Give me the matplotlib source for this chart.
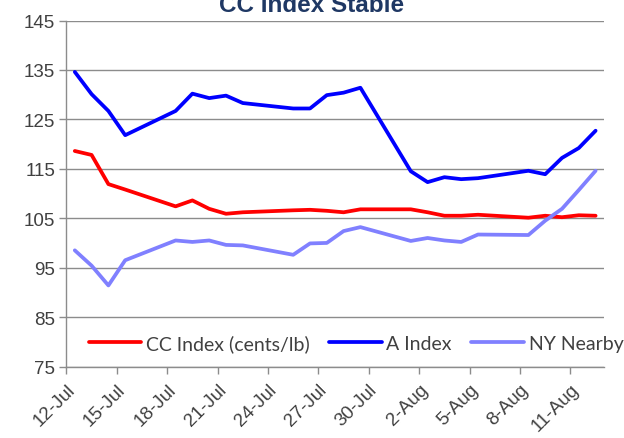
import matplotlib
matplotlib.use("Agg")
import matplotlib.pyplot as plt
import matplotlib.dates as mdates
import datetime as dt

# ---- data ----
dates = ["2011-07-12", "2011-07-13", "2011-07-14", "2011-07-15",
         "2011-07-18", "2011-07-19", "2011-07-20", "2011-07-21", "2011-07-22",
         "2011-07-25", "2011-07-26", "2011-07-27", "2011-07-28", "2011-07-29",
         "2011-08-01", "2011-08-02", "2011-08-03", "2011-08-04", "2011-08-05",
         "2011-08-08", "2011-08-09", "2011-08-10", "2011-08-11", "2011-08-12"]
cc_index = [118.6, 117.8, 111.9, 110.8,
            107.4, 108.6, 106.9, 105.9, 106.2,
            106.6, 106.7, 106.5, 106.2, 106.8,
            106.8, 106.2, 105.5, 105.5, 105.7,
            105.1, 105.5, 105.2, 105.6, 105.5]
a_index = [134.6, 130.1, 126.7, 121.8,
           126.7, 130.2, 129.3, 129.8, 128.3,
           127.2, 127.2, 129.9, 130.4, 131.4,
           114.5, 112.3, 113.3, 112.9, 113.1,
           114.6, 113.9, 117.2, 119.2, 122.7]
ny_nearby = [98.5, 95.4, 91.4, 96.5,
             100.5, 100.2, 100.5, 99.6, 99.5,
             97.6, 99.9, 100.0, 102.4, 103.2,
             100.4, 101.0, 100.5, 100.2, 101.7,
             101.6, 104.5, 106.9, 110.7, 114.6]
series_names = ["CC Index (cents/lb)", "A Index", "NY Nearby"]
series_colors = ["#FF0000", "#0000FF", "#8080FF"]
title = "CC Index Stable"
y_ticks = [75, 85, 95, 105, 115, 125, 135, 145]

# ---- figure ----
fig = plt.figure(figsize=(6.24, 4.39), dpi=100)
ax = fig.add_axes([66.4 / 624, 1 - 367.5 / 439, (604 - 66.4) / 624, 346 / 439])

dnum = [mdates.date2num(dt.datetime.strptime(d, "%Y-%m-%d")) for d in dates]
x = [d + 0.5 for d in dnum]  # points at day centres (Excel "between tick marks")
start = dnum[0]
n_days = 32

for vals, name, col in zip([cc_index, a_index, ny_nearby], series_names, series_colors):
    ax.plot(x, vals, color=col, lw=2.7, label=name, solid_joinstyle="round",
            solid_capstyle="round")

ax.set_xlim(start, start + n_days)
ax.set_ylim(75, 145)
ax.set_yticks(y_ticks)
ticks = [start + 3 * i for i in range(11)]
ax.set_xticks(ticks)
ax.xaxis.set_major_formatter(mdates.DateFormatter("%-d-%b"))

grid_col = "#8C8C8C"
ax.yaxis.grid(True, color=grid_col, lw=1.0)
ax.set_axisbelow(True)
for s in ["top", "right"]:
    ax.spines[s].set_visible(False)
for s in ["left", "bottom"]:
    ax.spines[s].set_color(grid_col)
    ax.spines[s].set_linewidth(1.0)

ax.tick_params(axis="both", direction="out", length=5, width=1, color=grid_col,
               labelcolor="#404040", labelsize=13.5)
ax.tick_params(axis="y", pad=3)
ax.tick_params(axis="x", pad=5)
for lab in ax.get_xticklabels():
    lab.set_fontfamily("Liberation Sans")
    lab.set_rotation(45)
    lab.set_ha("right")
    lab.set_va("top")
    lab.set_rotation_mode("anchor")
for lab in ax.get_yticklabels():
    lab.set_fontfamily("Liberation Sans")

leg = ax.legend(loc="center", bbox_to_anchor=(356 / 624, 1 - 344 / 439),
                bbox_transform=fig.transFigure, ncol=3, frameon=False,
                prop={"family": "Lato", "size": 14}, handlelength=2.7,
                handletextpad=0.25, columnspacing=1.0, borderaxespad=0)
for t in leg.get_texts():
    t.set_color("#404040")

# title is clipped at the top in the reference
fig.text(0.5, 1 - 11.5 / 439, title, ha="center", va="baseline",
         fontsize=17.5, fontweight="bold", color="#1F3864", family="Liberation Sans")

fig.savefig("out.png", dpi=100)
